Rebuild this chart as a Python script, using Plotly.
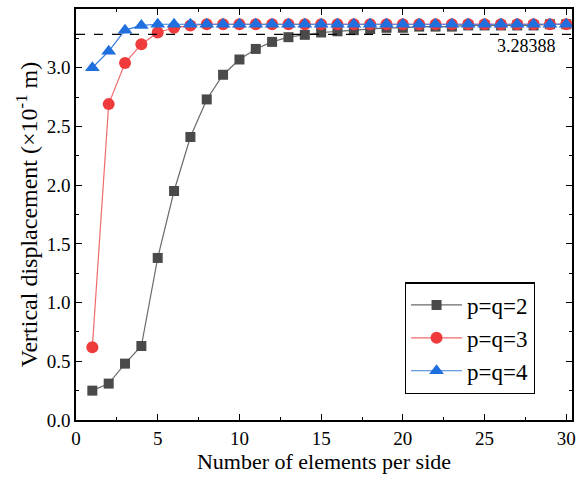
import plotly.graph_objects as go

n = list(range(1, 31))
pq2 = [0.25, 0.31, 0.48, 0.63, 1.38, 1.95, 2.41, 2.73, 2.94, 3.07,
       3.16, 3.22, 3.26, 3.28, 3.30, 3.31, 3.32, 3.33, 3.34, 3.34,
       3.35, 3.35, 3.35, 3.36, 3.36, 3.36, 3.36, 3.36, 3.37, 3.37]
pq3 = [0.62, 2.69, 3.04, 3.20, 3.30, 3.34, 3.36, 3.37, 3.37, 3.37,
       3.37, 3.37, 3.37, 3.37, 3.37, 3.37, 3.37, 3.37, 3.37, 3.37,
       3.37, 3.37, 3.37, 3.37, 3.37, 3.37, 3.37, 3.37, 3.37, 3.37]
pq4 = [3.00, 3.14, 3.32, 3.36, 3.37, 3.37, 3.37, 3.37, 3.37, 3.37,
       3.37, 3.37, 3.37, 3.37, 3.37, 3.37, 3.37, 3.37, 3.37, 3.37,
       3.37, 3.37, 3.37, 3.37, 3.37, 3.37, 3.37, 3.37, 3.37, 3.37]
ref_value = 3.28388
ref_label = "3.28388"

FONT = "Liberation Serif"

fig = go.Figure()
fig.add_trace(go.Scatter(x=n, y=pq2, mode="lines+markers", name="p=q=2",
                         line=dict(color="#6a6a6a", width=1.2),
                         marker=dict(symbol="square", size=10, color="#4a4a4a")))
fig.add_trace(go.Scatter(x=n, y=pq3, mode="lines+markers", name="p=q=3",
                         line=dict(color="#f26a6a", width=1.2),
                         marker=dict(symbol="circle", size=12, color="#ef3b3b")))
fig.add_trace(go.Scatter(x=n, y=pq4, mode="lines+markers", name="p=q=4",
                         line=dict(color="#3a7fe0", width=1.2),
                         marker=dict(symbol="triangle-up", size=13, color="#1f6fde")))

fig.add_shape(type="line", xref="paper", yref="y", x0=0, x1=1,
              y0=ref_value, y1=ref_value,
              line=dict(color="black", width=1.2, dash="dash"))
fig.add_annotation(x=29.5, y=ref_value, xref="x", yref="y", text=ref_label,
                   showarrow=False, xanchor="right", yanchor="top", yshift=0,
                   font=dict(family=FONT, size=18, color="black"))

axis_common = dict(showline=True, linecolor="black", linewidth=1.5, mirror="ticks",
                   ticks="inside", ticklen=6, tickwidth=1.3, tickcolor="black",
                   showgrid=False, zeroline=False, automargin=False,
                   tickfont=dict(family=FONT, size=19, color="black"))

fig.update_xaxes(range=[0, 30.35], dtick=5, tick0=0,
                 title=dict(text="Number of elements per side",
                            font=dict(family=FONT, size=22, color="black"), standoff=2),
                 minor=dict(dtick=2.5, ticks="inside", ticklen=3, tickcolor="black", tickwidth=1.2),
                 **axis_common)
fig.update_yaxes(range=[0, 3.5], dtick=0.5, tick0=0, tickformat=".1f",
                 title=dict(text="Vertical displacement (×10<sup>-1</sup> m)",
                            font=dict(family=FONT, size=24, color="black"), standoff=2),
                 minor=dict(dtick=0.25, ticks="inside", ticklen=3, tickcolor="black", tickwidth=1.2),
                 **axis_common)

fig.update_layout(
    width=587, height=480,
    margin=dict(l=76, r=15, t=9, b=60),
    plot_bgcolor="white", paper_bgcolor="white",
    font=dict(family=FONT, color="black"),
    legend=dict(x=0.663, y=0.335, xanchor="left", yanchor="top",
                bordercolor="black", borderwidth=1.2, bgcolor="white",
                font=dict(family=FONT, size=23, color="black"),
                tracegroupgap=0, itemwidth=51),
)

fig.write_html("out.html")
